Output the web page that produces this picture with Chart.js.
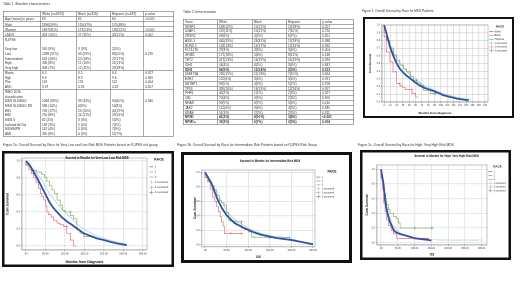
<!DOCTYPE html>
<html><head><meta charset="utf-8">
<script src="https://cdn.jsdelivr.net/npm/chart.js@4"></script>
<style>
html,body{margin:0;padding:0;background:#fff;overflow:hidden;width:520px;height:292px}
#page{position:absolute;left:0;top:0;width:1040px;height:584px;transform:scale(0.5);transform-origin:0 0;font-family:"Liberation Sans",Arial,sans-serif;color:#222}
.abs{position:absolute;white-space:nowrap}
.cap{font-size:6.6px;color:#333}
.ctitle{font-size:5.6px;font-weight:bold;color:#111;text-align:center}
table{position:absolute;border-collapse:collapse;table-layout:fixed;font-size:6.4px;color:#333}
td{border:1.6px solid #555;padding:0 3px;vertical-align:top;overflow:hidden;white-space:nowrap}
.frame{position:absolute;border:5px solid #111;box-sizing:border-box;background:#fff}
</style></head><body><div id="page"></div>
<script>
// ---------------- Table 1 data ----------------
const t1Head = ['', 'White (n=4193)', 'Black (n=326)', 'Hispanic (n=367)', 'p value'];
const t1Labels = [['Age (mean) in years'], ['Male'], ['Women'], ['t-MDS'],
  ['R-IPSS', '', 'Very low', 'Low', 'Intermediate', 'High', 'Very high'],
  ['Blasts', 'Hgb', 'Plat', 'ANC'],
  ['WHO 2016', 'classification', 'MDS SLD/MLD', 'MDS SLD/MLD RS', 'EB1', 'EB2', 'MDS U', 'Isolated del 5q', 'MDS/MPN', 'AML']];
const t1White = [['69'], ['2496(59%)'], ['1697(41%)'], ['453 (10%)'],
  ['', '', '530 (9%)', '2288 (57%)', '653 (20%)', '308 (8%)', '308 (7%)'],
  ['6.5', '9.9', '149', '3.37'],
  ['', '', '1068 (33%)', '586 (14%)', '709 (17%)', '750 (8%)', '82 (2%)', '139 (3%)', '167 (4%)', '355 (8%)']];
const t1Black = [['62'], ['155(47%)'], ['171(53%)'], ['27 (11%)'],
  ['', '', '3 (3%)', '65 (59%)', '20 (18%)', '11 (10%)', '12 (11%)'],
  ['6.5', '8.9', '176', '4.33'],
  ['', '', '39 (34%)', '6(5%)', '23 (20%)', '24 (21%)', '3 (3%)', '5 (4%)', '5 (4%)', '6 (5%)']];
const t1Hisp = [['60'], ['175(48%)'], ['192(52%)'], ['45(12%)'],
  ['', '', '2(5%)', '83(55%)', '27(17%)', '21(13%)', '29(18%)'],
  ['6.6', '9.6', '112', '4.32'],
  ['', '', '90(40%)', '14(8%)', '40(19%)', '29(16%)', '5(3%)', '7(4%)', '7(4%)', '11(7%)']];
const t1P = [['<0.001'], [''], ['<0.001'], ['0.052'],
  ['', '', '', '0.276'],
  ['0.927', '0.365', '0.004', '0.457'],
  ['', '', '0.340']];

// ---------------- Table 2 data ----------------
const t2Head = ['Gene', 'White', 'Black', 'Hispanic', 'p value'];
const t2Genes = ['SRSF2', 'U2AF1', 'ZRSR2', 'ASXL1', 'RUNX 1', 'FLT3-ITD', 'SF3B1', 'TET2', 'IDH1', 'IDH2', 'DNMT3A', 'EZH2', 'SETBP1', 'TP53', 'PHF6', 'CBL', 'NRAS', 'JAK2', 'KRAS', 'NPM1', 'NPM1c'];
const t2White = ['118(12%)', '119(11%)', '69(6%)', '440(35%)', '126(13%)', '29(3%)', '171(18%)', '417(23%)', '44(4%)', '96(5%)', '295(15%)', '125(6%)', '93(5%)', '395(20%)', '40(2%)', '70(4%)', '99(5%)', '112(6%)', '51(3%)', '41(2%)', '39(2%)'];
const t2Black = ['10(12%)', '10(12%)', '4(5%)', '26(31%)', '14(17%)', '4(5%)', '5(6%)', '16(19%)', '4(5%)', '12(14%)', '11(13%)', '3(4%)', '4(5%)', '16(19%)', '1(1%)', '4(5%)', '6(7%)', '3(4%)', '2(2%)', '8(10%)', '6(7%)'];
const t2Hisp = ['13(18%)', '7(10%)', '6(7%)', '13(18%)', '12(16%)', '3(4%)', '8(11%)', '14(19%)', '3(4%)', '2(3%)', '7(10%)', '3(4%)', '5(7%)', '12(16%)', '2(3%)', '2(3%)', '3(4%)', '4(5%)', '2(3%)', '3(4%)', '2(3%)'];
const t2P = ['0.257', '0.720', '0.451', '0.388', '0.392', '0.004', '0.148', '0.393', '0.847', '0.013', '0.464', '0.761', '0.758', '0.957', '0.327', '0.902', '0.410', '0.835', '0.311', '<0.001', '0.004'];
const t2Bold = [9, 19, 20];

// ---------------- Figure 1 data ----------------
const f1Legend = ['White', 'Black', 'Hispanic', '1-censored', '2-censored', '3-censored'];
const f1XTicks = [0, 12, 24, 36, 48, 60, 72, 84, 96, 108, 120, 132, 144, 156, 168, 180, 192];
const f1YTicks = [0, 0.1, 0.2, 0.3, 0.4, 0.5, 0.6, 0.7, 0.8, 0.9, 1.0];
const f1WhiteM = [0, 5, 11, 18, 24, 30, 37, 43, 50, 56, 62, 69, 75, 85, 94, 104, 113, 126, 139, 150, 161];
const f1WhiteS = [1, 0.88, 0.72, 0.59, 0.50, 0.43, 0.378, 0.34, 0.305, 0.27, 0.24, 0.21, 0.188, 0.165, 0.143, 0.115, 0.087, 0.065, 0.044, 0.032, 0.022];
const f1BlackM = [0, 4, 11, 17, 24, 30, 35, 40, 53, 60, 65];
const f1BlackS = [1, 0.85, 0.65, 0.52, 0.39, 0.24, 0.21, 0.19, 0.16, 0.11, 0.065];
const f1HispM = [0, 5, 11, 18, 24, 30, 37, 43, 50, 56, 62, 69, 75, 88, 97];
const f1HispS = [1, 0.9, 0.80, 0.70, 0.61, 0.54, 0.48, 0.43, 0.39, 0.33, 0.283, 0.25, 0.218, 0.152, 0.109];
const f1Cens1M = [0, 11, 24, 37, 50, 62, 75, 94, 113, 139, 165];
const f1Cens1S = [1, 0.76, 0.56, 0.44, 0.35, 0.28, 0.22, 0.16, 0.11, 0.06, 0.03];
const f1Cens2M = [30, 53];
const f1Cens2S = [0.24, 0.16];
const f1Cens3M = [62, 97];
const f1Cens3S = [0.283, 0.109];

// ---------------- Figure 2a data ----------------
const f2Legend = ['1', '2', '3', '1-censored', '2-censored', '3-censored'];
const f2XTicks = [0, 50, 100, 150, 200, 250, 300];
const f2bXTicks = [0, 50, 100, 150, 200, 250];
const f2YTicks = [0, 0.2, 0.4, 0.6, 0.8, 1.0];
const f2aWhiteM = [0, 10, 20, 30, 40, 50, 60, 70, 80, 92, 105, 118, 133, 148, 165, 182, 200, 216, 235, 259];
const f2aWhiteS = [1, 0.95, 0.87, 0.79, 0.70, 0.61, 0.52, 0.45, 0.40, 0.34, 0.29, 0.25, 0.20, 0.15, 0.12, 0.09, 0.07, 0.05, 0.03, 0.01];
const f2aBlackM = [0, 8, 14, 20, 26, 32, 37, 41, 46, 50, 54, 58, 65, 71, 80, 88, 97, 105, 114, 122, 129];
const f2aBlackS = [1, 0.95, 0.9, 0.85, 0.8, 0.75, 0.68, 0.62, 0.58, 0.54, 0.47, 0.40, 0.37, 0.34, 0.30, 0.27, 0.25, 0.23, 0.15, 0.07, 0.0];
const f2aHispM = [0, 8, 15, 28, 41, 48, 54, 60, 67, 73, 80, 88, 94, 101, 114, 122, 131, 139, 148, 161, 170];
const f2aHispS = [1, 0.96, 0.93, 0.89, 0.87, 0.84, 0.81, 0.76, 0.71, 0.66, 0.62, 0.54, 0.48, 0.42, 0.40, 0.36, 0.32, 0.19, 0.15, 0.11, 0.11];
const f2aCens1M = [0, 20, 40, 60, 80, 100, 120, 140, 160, 180, 200, 230, 260];
const f2aCens1S = [1, 0.9, 0.78, 0.62, 0.5, 0.4, 0.31, 0.23, 0.17, 0.12, 0.09, 0.05, 0.02];
const f2aCens2M = [105];
const f2aCens2S = [0.23];
const f2aCens3M = [114, 170];
const f2aCens3S = [0.40, 0.11];

// ---------------- Figure 2b data ----------------
const f2bWhiteM = [0, 8, 15, 23, 31, 40, 50, 60, 69, 85, 100, 115, 131, 146, 162, 180, 200, 225, 250];
const f2bWhiteS = [1, 0.92, 0.85, 0.72, 0.6, 0.5, 0.41, 0.35, 0.30, 0.25, 0.21, 0.17, 0.14, 0.12, 0.10, 0.085, 0.07, 0.04, 0.01];
const f2bBlackM = [0, 6, 12, 17, 23, 27, 31, 35, 38, 42, 45, 46, 60, 85];
const f2bBlackS = [1, 0.93, 0.87, 0.77, 0.66, 0.6, 0.53, 0.46, 0.39, 0.32, 0.26, 0.16, 0.16, 0.16];
const f2bHispM = [0, 8, 15, 21, 27, 33, 38, 44, 50, 55, 58, 70, 85, 92, 100, 108, 115, 150, 196];
const f2bHispS = [1, 0.93, 0.87, 0.82, 0.76, 0.68, 0.61, 0.58, 0.55, 0.45, 0.34, 0.33, 0.32, 0.23, 0.21, 0.18, 0.11, 0.1, 0.1];
const f2bCens1M = [0, 10, 20, 30, 40, 50, 60, 75, 90, 110, 130, 160, 200];
const f2bCens1S = [1, 0.9, 0.8, 0.7, 0.58, 0.47, 0.4, 0.32, 0.27, 0.2, 0.16, 0.12, 0.1];
const f2bCens2M = [60, 85];
const f2bCens2S = [0.16, 0.16];
const f2bCens3M = [85, 150, 196];
const f2bCens3S = [0.32, 0.1, 0.1];

// ---------------- Figure 2c data ----------------
const f2cWhiteM = [0, 3, 7, 10, 12, 15, 18, 22, 27, 32, 37, 42, 55, 72, 87, 102, 120, 137, 150];
const f2cWhiteS = [1, 0.92, 0.81, 0.68, 0.58, 0.5, 0.43, 0.35, 0.28, 0.23, 0.18, 0.15, 0.12, 0.1, 0.08, 0.06, 0.05, 0.04, 0.03];
const f2cBlackM = [0, 3, 5, 8, 12, 17, 22, 30, 37, 47, 57, 100, 140];
const f2cBlackS = [1, 0.9, 0.85, 0.72, 0.54, 0.42, 0.31, 0.23, 0.17, 0.12, 0.06, 0.06, 0.06];
const f2cHispM = [0, 5, 10, 14, 17, 22, 27, 37, 45, 52, 57, 62, 100, 152];
const f2cHispS = [1, 0.88, 0.76, 0.67, 0.6, 0.52, 0.45, 0.40, 0.36, 0.33, 0.27, 0.2, 0.2, 0.2];
const f2cCens1M = [0, 5, 10, 17, 25, 32, 42, 52, 70, 100, 150, 200, 250, 302];
const f2cCens1S = [1, 0.8, 0.65, 0.49, 0.36, 0.26, 0.2, 0.15, 0.1, 0.06, 0.04, 0.036, 0.036, 0.036];
const f2cCens2M = [100, 140];
const f2cCens2S = [0.06, 0.06];
const f2cCens3M = [100, 152];
const f2cCens3S = [0.2, 0.2];

// ---------------- layout helpers ----------------
const S = 2;
const page = document.getElementById('page');
Chart.defaults.font.family = '"Liberation Sans", Arial, sans-serif';
Chart.defaults.color = '#222';

function txt(cls, x, y, html, extra) {
  const e = document.createElement('div');
  e.className = 'abs ' + cls;
  e.style.left = x * S + 'px'; e.style.top = y * S + 'px';
  if (extra) Object.assign(e.style, extra);
  e.innerHTML = html;
  page.appendChild(e); return e;
}
function box(cls, x, y, w, h, bw) {
  const e = document.createElement('div');
  e.className = cls;
  Object.assign(e.style, {left: x * S + 'px', top: y * S + 'px', width: w * S + 'px', height: h * S + 'px', borderWidth: bw * S + 'px'});
  page.appendChild(e); return e;
}
function table(x, y, widths, rows, lh) {
  const t = document.createElement('table');
  t.style.left = x * S + 'px'; t.style.top = y * S + 'px';
  t.style.width = widths.reduce((a, b) => a + b) * S + 'px';
  t.style.lineHeight = lh * S + 'px';
  const cg = document.createElement('colgroup');
  widths.forEach(w => { const c = document.createElement('col'); c.style.width = w * S + 'px'; cg.appendChild(c); });
  t.appendChild(cg);
  rows.forEach(r => {
    const tr = t.insertRow();
    if (r.bold) tr.style.fontWeight = 'bold';
    r.cells.forEach(c => { const td = tr.insertCell(); td.innerHTML = c; });
  });
  page.appendChild(t);
}
const cell = arr => arr.map(s => s === '' ? '&nbsp;' : s).join('<br>');

// ---------------- tables ----------------
txt('cap', 3, 1.5, 'Table 1. Baseline characteristics');
const t1Rows = [{cells: t1Head}];
t1Labels.forEach((g, i) => t1Rows.push({cells: [cell(g), cell(t1White[i]), cell(t1Black[i]), cell(t1Hisp[i]), cell(t1P[i])]}));
table(3, 11, [37, 36, 34, 33, 30], t1Rows, 4.65);

txt('cap', 183, 9.5, 'Table 2 Gene mutation');
const t2Rows = [{cells: t2Head}];
t2Genes.forEach((g, i) => t2Rows.push({bold: t2Bold.includes(i), cells: [g, t2White[i], t2Black[i], t2Hisp[i], t2P[i]]}));
table(183, 19, [34, 35, 34, 34, 33], t2Rows, 4.28);

// ---------------- chart builder ----------------
function legendFix(w) {
  return {id: 'legendFix', afterInit(chart) {
    const L = chart.legend; if (!L) return;
    const f = L.fit;
    L.fit = function () { f.call(this); this.width = w; };
  }};
}
const plotFrame = {id: 'plotFrame', beforeDatasetsDraw(chart) {
  const a = chart.chartArea, c = chart.ctx;
  c.save(); c.strokeStyle = '#9a9a9a'; c.lineWidth = 0.6 * S;
  c.strokeRect(a.left, a.top, a.right - a.left, a.bottom - a.top); c.restore();
}};

const C1 = '#34519f', C2 = '#e2566e', C3 = '#6fa84a', CC1 = '#86cfe8', CC2 = '#e889a6', CC3 = '#3aa3a0';

function km(o) {
  const c = document.createElement('canvas');
  c.width = o.w * S; c.height = o.h * S;
  Object.assign(c.style, {position: 'absolute', left: o.x * S + 'px', top: o.y * S + 'px', width: o.w * S + 'px', height: o.h * S + 'px'});
  page.appendChild(c);
  const legendW = (o.w - o.plotR) * S;
  const ds = o.series.map(s => ({
    label: s.label,
    data: s.t.map((t, i) => ({x: t, y: s.s[i]})),
    borderColor: s.color, backgroundColor: s.color,
    borderWidth: s.width * S,
    showLine: s.line !== false,
    stepped: s.step ? 'after' : false,
    tension: 0,
    pointStyle: s.cross ? 'cross' : 'line',
    pointRadius: s.line === false ? 1.4 * S : 0,
    pointBorderWidth: 0.6 * S,
    fill: false
  }));
  new Chart(c, {
    type: 'line',
    data: {datasets: ds},
    options: {
      responsive: false, animation: false, devicePixelRatio: 1,
      layout: {padding: {left: 0, right: 0, top: o.plotT * S, bottom: 0}},
      plugins: {
        legend: {position: 'right', align: 'start',
          title: {display: true, text: 'RACE', color: '#111', font: {size: o.legTitle * S, weight: 'bold'}, padding: {top: 0, bottom: o.legTitlePad * S}},
          labels: {usePointStyle: true, pointStyleWidth: 4 * S, boxHeight: o.legFont * S, color: '#333',
            font: {size: o.legFont * S}, padding: o.legPad * S}},
        tooltip: {enabled: false}
      },
      scales: {
        x: {type: 'linear', min: o.xMin, max: o.xMax,
          afterFit(s) { s.height = (o.h - o.plotB) * S; },
          afterBuildTicks(s) { s.ticks = o.xTicks.map(v => ({value: v})); },
          ticks: {font: {size: o.tickFont * S}, color: '#333', padding: 0.8 * S, maxRotation: 0, autoSkip: false, callback: o.xFmt},
          grid: {color: o.grid, lineWidth: 0.6 * S, tickLength: 1.2 * S, tickColor: '#777'},
          border: {color: '#888', width: 0.6 * S},
          title: {display: true, text: o.xTitle, color: '#111', font: {size: o.axTitle * S, weight: 'bold'}, padding: {top: 0, bottom: o.xTitlePad * S}}
        },
        y: {type: 'linear', min: o.yMin, max: o.yMax,
          afterFit(s) { s.width = o.plotL * S; },
          afterBuildTicks(s) { s.ticks = o.yTicks.map(v => ({value: v})); },
          ticks: {font: {size: o.tickFont * S}, color: '#333', padding: 0.8 * S, autoSkip: false, callback: v => v.toFixed(1)},
          grid: {color: o.grid, lineWidth: 0.6 * S, tickLength: 1.2 * S, tickColor: '#777'},
          border: {color: '#888', width: 0.6 * S},
          title: {display: true, text: 'Cum Survival', color: '#111', font: {size: o.axTitle * S, weight: 'bold'}, padding: {top: o.yTitlePad * S, bottom: 0}}
        }
      }
    },
    plugins: [legendFix(legendW), plotFrame]
  });
}
function seriesSet(lbl, wm, ws, bm, bs, hm, hs, c1m, c1s, c2m, c2s, c3m, c3s) {
  return [
    {label: lbl[0], t: wm, s: ws, color: C1, width: 1.8},
    {label: lbl[1], t: bm, s: bs, color: C2, width: 0.6, step: true},
    {label: lbl[2], t: hm, s: hs, color: C3, width: 0.6, step: true},
    {label: lbl[3], t: c1m, s: c1s, color: CC1, width: 0.6, cross: true},
    {label: lbl[4], t: c2m, s: c2s, color: CC2, width: 0.6, cross: true, line: false},
    {label: lbl[5], t: c3m, s: c3s, color: CC3, width: 0.6, cross: true, line: false}
  ];
}
const fmt2 = v => v === 0 ? '.00' : v.toFixed(2);

// ---------------- Figure 1 ----------------
txt('cap', 362, 9, 'Figure 1. Overall Survival by Race for MDS Patients', {fontSize: '6.2px'});
box('frame', 363, 17, 151, 101, 2);
km({x: 365, y: 19, w: 147, h: 97, plotL: 17, plotR: 123, plotT: 6, plotB: 83,
  xMin: -4, xMax: 197.7, yMin: 0, yMax: 1, xTicks: f1XTicks, yTicks: f1YTicks, xFmt: v => String(v),
  grid: '#cdcdcd', tickFont: 2.3, axTitle: 3, xTitle: 'Months from diagnosis', xTitlePad: 1.0, yTitlePad: 3.2,
  legTitle: 3, legTitlePad: 0.6, legFont: 2.5, legPad: 1.3,
  series: seriesSet(f1Legend, f1WhiteM, f1WhiteS, f1BlackM, f1BlackS, f1HispM, f1HispS, f1Cens1M, f1Cens1S, f1Cens2M, f1Cens2S, f1Cens3M, f1Cens3S)});

// ---------------- Figure 2a ----------------
txt('cap', 3, 142.5, 'Figure 2a: Overall Survival by Race for Very Low and Low Risk MDS Patients based on R-IPSS risk group');
box('frame', 2, 151, 172, 116, 2.5);
km({x: 5, y: 153, w: 166, h: 112, plotL: 17, plotR: 142, plotT: 5, plotB: 97,
  xMin: -10, xMax: 311, yMin: -0.047, yMax: 1.035, xTicks: f2XTicks, yTicks: f2YTicks, xFmt: fmt2,
  grid: '#d6d6d6', tickFont: 2.6, axTitle: 3.4, xTitle: 'Months from Diagnosis', xTitlePad: 0.9, yTitlePad: 0.5,
  legTitle: 3.4, legTitlePad: 1.0, legFont: 2.7, legPad: 2.4,
  series: seriesSet(f2Legend, f2aWhiteM, f2aWhiteS, f2aBlackM, f2aBlackS, f2aHispM, f2aHispS, f2aCens1M, f2aCens1S, f2aCens2M, f2aCens2S, f2aCens3M, f2aCens3S)});
txt('ctitle', 47, 156, 'Survival in Months for Very Low, Low Risk MDS', {width: '200px'});

// ---------------- Figure 2b ----------------
txt('cap', 177, 142.5, 'Figure 2b. Overall Survival by Race for Intermediate Risk Patients based on R-IPSS Risk Group');
box('frame', 181, 152, 171, 111, 3);
km({x: 184, y: 155, w: 165, h: 105, plotL: 17.7, plotR: 131, plotT: 15, plotB: 91.7,
  xMin: -7.6, xMax: 254.6, yMin: -0.023, yMax: 1.032, xTicks: f2bXTicks, yTicks: f2YTicks, xFmt: fmt2,
  grid: '#d6d6d6', tickFont: 2.5, axTitle: 3.4, xTitle: 'OS', xTitlePad: 1.0, yTitlePad: 9,
  legTitle: 3.2, legTitlePad: 0.6, legFont: 2.5, legPad: 1.4,
  series: seriesSet(f2Legend, f2bWhiteM, f2bWhiteS, f2bBlackM, f2bBlackS, f2bHispM, f2bHispS, f2bCens1M, f2bCens1S, f2bCens2M, f2bCens2S, f2bCens3M, f2bCens3S)});
txt('ctitle', 220, 159.3, 'Survival in Months for Intermediate Risk MDS', {width: '200px'});

// ---------------- Figure 2c ----------------
txt('cap', 358, 142.5, 'Figure 2c. Overall Survival by Race for High, Very High Risk MDS');
box('frame', 360, 150, 151, 110, 2.5);
km({x: 363, y: 153, w: 145, h: 104, plotL: 14, plotR: 124, plotT: 12, plotB: 92,
  xMin: -12, xMax: 316, yMin: -0.031, yMax: 1.059, xTicks: f2XTicks, yTicks: f2YTicks, xFmt: fmt2,
  grid: '#d6d6d6', tickFont: 2.4, axTitle: 3.3, xTitle: 'OS', xTitlePad: 0.3, yTitlePad: 2,
  legTitle: 3, legTitlePad: 0.6, legFont: 2.4, legPad: 1.4,
  series: seriesSet(f2Legend, f2cWhiteM, f2cWhiteS, f2cBlackM, f2cBlackS, f2cHispM, f2cHispS, f2cCens1M, f2cCens1S, f2cCens2M, f2cCens2S, f2cCens3M, f2cCens3S)});
txt('ctitle', 396.5, 154.5, 'Survival in Months for High, Very High Risk MDS', {width: '200px'});
</script>
</body></html>
